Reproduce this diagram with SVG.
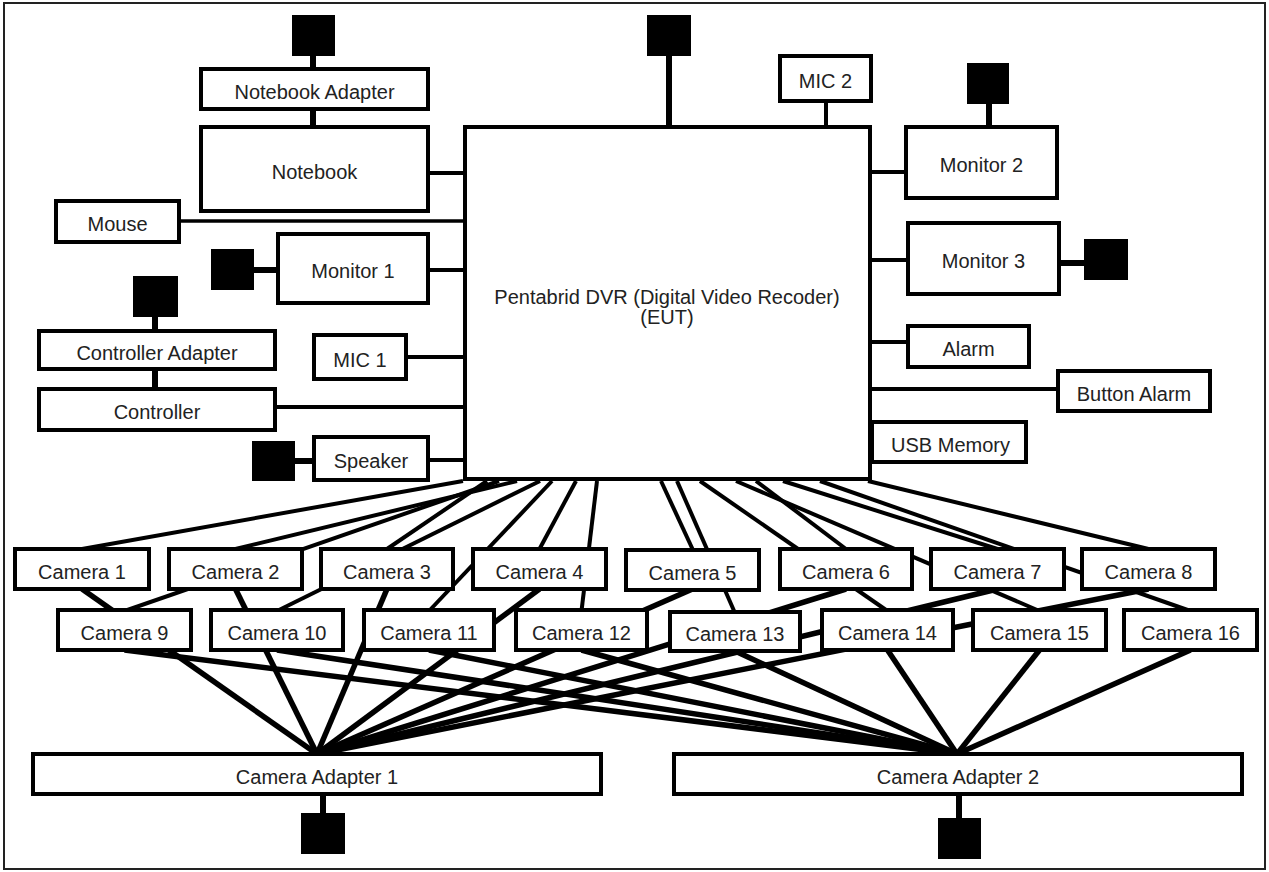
<svg xmlns="http://www.w3.org/2000/svg" width="1269" height="872" viewBox="0 0 1269 872">
<style>
.box{fill:#fff;stroke:#000;stroke-width:4}
.sq{fill:#000}
.ln{stroke:#000;stroke-width:4;fill:none}
.thin{stroke:#000;stroke-width:3.5;fill:none}
.pw{stroke:#000;stroke-width:6;fill:none}
.dl{stroke:#000;stroke-width:4;fill:none}
.al{stroke:#000;stroke-width:5.5;fill:none}
text{font-family:"Liberation Sans",Arial,sans-serif;font-size:20px;fill:#222;text-anchor:middle}
</style>
<rect x="4" y="3" width="1261" height="866" fill="#fff" stroke="#222" stroke-width="2"/>
<g id="connectors">
  <!-- power / adapter links -->
  <line class="pw" x1="313" y1="56" x2="313" y2="69"/>
  <line class="pw" x1="313" y1="109" x2="313" y2="127"/>
  <line class="pw" x1="669" y1="56" x2="669" y2="127"/>
  <line class="pw" x1="989" y1="104" x2="989" y2="127"/>
  <line class="pw" x1="1059" y1="263" x2="1084" y2="263"/>
  <line class="pw" x1="254" y1="270" x2="278" y2="270"/>
  <line class="pw" x1="155" y1="317" x2="155" y2="331"/>
  <line class="pw" x1="155" y1="369" x2="155" y2="389"/>
  <line class="pw" x1="295" y1="461" x2="314" y2="461"/>
  <line class="pw" x1="323" y1="794" x2="323" y2="813"/>
  <line class="pw" x1="959" y1="794" x2="959" y2="818"/>
  <!-- DVR side links -->
  <line class="ln" x1="428" y1="173" x2="465" y2="173"/>
  <line class="thin" x1="179" y1="221" x2="465" y2="221"/>
  <line class="ln" x1="428" y1="270" x2="465" y2="270"/>
  <line class="ln" x1="406" y1="357" x2="465" y2="357"/>
  <line class="ln" x1="275" y1="407" x2="465" y2="407"/>
  <line class="ln" x1="428" y1="460" x2="465" y2="460"/>
  <line class="ln" x1="826" y1="101" x2="826" y2="127"/>
  <line class="ln" x1="870" y1="172" x2="906" y2="172"/>
  <line class="ln" x1="870" y1="260" x2="908" y2="260"/>
  <line class="ln" x1="870" y1="342" x2="908" y2="342"/>
  <line class="ln" x1="870" y1="389" x2="1058" y2="389"/>
  <!-- DVR to cameras -->
  <line class="dl" x1="463" y1="481" x2="82" y2="549"/>
  <line class="dl" x1="487" y1="481" x2="387" y2="549"/>
  <line class="dl" x1="499" y1="481" x2="124.5" y2="611"/>
  <line class="dl" x1="517" y1="481" x2="235.5" y2="549"/>
  <line class="dl" x1="540" y1="481" x2="277" y2="611"/>
  <line class="dl" x1="552" y1="481" x2="429" y2="611"/>
  <line class="dl" x1="576" y1="481" x2="539.5" y2="549"/>
  <line class="dl" x1="597" y1="481" x2="581.5" y2="611"/>
  <line class="dl" x1="661" y1="481" x2="692.5" y2="549"/>
  <line class="dl" x1="677" y1="481" x2="735" y2="613"/>
  <line class="dl" x1="700" y1="481" x2="887.5" y2="611"/>
  <line class="dl" x1="736" y1="481" x2="1039.5" y2="611"/>
  <line class="dl" x1="756" y1="481" x2="846" y2="549"/>
  <line class="dl" x1="783" y1="481" x2="997.5" y2="549"/>
  <line class="dl" x1="820" y1="481" x2="1190.5" y2="611"/>
  <line class="dl" x1="868" y1="481" x2="1148.5" y2="549"/>
  <!-- cameras to adapters -->
  <line class="al" x1="82" y1="589" x2="317" y2="754"/>
  <line class="al" x1="235.5" y1="589" x2="317" y2="754"/>
  <line class="al" x1="387" y1="589" x2="317" y2="754"/>
  <line class="al" x1="539.5" y1="589" x2="317" y2="754"/>
  <line class="al" x1="692.5" y1="589" x2="317" y2="754"/>
  <line class="al" x1="846" y1="589" x2="317" y2="754"/>
  <line class="al" x1="997.5" y1="589" x2="317" y2="754"/>
  <line class="al" x1="1148.5" y1="589" x2="317" y2="754"/>
  <line class="al" x1="124.5" y1="650" x2="957" y2="754"/>
  <line class="al" x1="277" y1="650" x2="957" y2="754"/>
  <line class="al" x1="429" y1="650" x2="957" y2="754"/>
  <line class="al" x1="581.5" y1="650" x2="957" y2="754"/>
  <line class="al" x1="735" y1="651" x2="957" y2="754"/>
  <line class="al" x1="887.5" y1="650" x2="957" y2="754"/>
  <line class="al" x1="1039.5" y1="650" x2="957" y2="754"/>
  <line class="al" x1="1190.5" y1="650" x2="957" y2="754"/>
</g>
<g id="power-squares">
  <rect class="sq" x="292" y="15" width="43" height="41"/>
  <rect class="sq" x="647" y="15" width="44" height="41"/>
  <rect class="sq" x="967" y="63" width="42" height="41"/>
  <rect class="sq" x="1084" y="239" width="44" height="41"/>
  <rect class="sq" x="211" y="249" width="43" height="41"/>
  <rect class="sq" x="133" y="276" width="45" height="41"/>
  <rect class="sq" x="252" y="441" width="43" height="40"/>
  <rect class="sq" x="301" y="813" width="44" height="41"/>
  <rect class="sq" x="938" y="818" width="43" height="41"/>
</g>
<g id="dvr"><rect class="box" x="465" y="127" width="405" height="352"/>
  <text x="667" y="304">Pentabrid DVR (Digital Video Recoder)</text>
  <text x="667" y="324">(EUT)</text></g>
<g id="notebook-adapter"><rect class="box" x="201" y="69" width="227" height="40"/><text x="314.5" y="98.5">Notebook Adapter</text></g>
<g id="notebook"><rect class="box" x="201" y="127" width="227" height="84"/><text x="314.5" y="178.5">Notebook</text></g>
<g id="mouse"><rect class="box" x="56" y="201" width="123" height="41"/><text x="117.5" y="231">Mouse</text></g>
<g id="monitor-1"><rect class="box" x="278" y="234" width="150" height="69"/><text x="353" y="278">Monitor 1</text></g>
<g id="controller-adapter"><rect class="box" x="39" y="331" width="236" height="38"/><text x="157" y="359.5">Controller Adapter</text></g>
<g id="controller"><rect class="box" x="39" y="389" width="236" height="41"/><text x="157" y="419">Controller</text></g>
<g id="mic-1"><rect class="box" x="314" y="335" width="92" height="44"/><text x="360" y="366.5">MIC 1</text></g>
<g id="speaker"><rect class="box" x="314" y="437" width="114" height="43"/><text x="371" y="468">Speaker</text></g>
<g id="mic-2"><rect class="box" x="780" y="56" width="91" height="45"/><text x="825.5" y="88">MIC 2</text></g>
<g id="monitor-2"><rect class="box" x="906" y="127" width="151" height="71"/><text x="981.5" y="172">Monitor 2</text></g>
<g id="monitor-3"><rect class="box" x="908" y="223" width="151" height="71"/><text x="983.5" y="268">Monitor 3</text></g>
<g id="alarm"><rect class="box" x="908" y="326" width="121" height="41"/><text x="968.5" y="356">Alarm</text></g>
<g id="button-alarm"><rect class="box" x="1058" y="371" width="152" height="40"/><text x="1134" y="400.5">Button Alarm</text></g>
<g id="usb-memory"><rect class="box" x="872" y="422" width="154" height="40"/><text x="950.5" y="451.5">USB Memory</text></g>
<g id="camera-1"><rect class="box" x="15" y="549" width="134" height="40"/><text x="82" y="578.5">Camera 1</text></g>
<g id="camera-2"><rect class="box" x="169" y="549" width="133" height="40"/><text x="235.5" y="578.5">Camera 2</text></g>
<g id="camera-3"><rect class="box" x="321" y="549" width="132" height="40"/><text x="387" y="578.5">Camera 3</text></g>
<g id="camera-4"><rect class="box" x="473" y="549" width="133" height="40"/><text x="539.5" y="578.5">Camera 4</text></g>
<g id="camera-5"><rect class="box" x="626" y="550" width="133" height="40"/><text x="692.5" y="579.5">Camera 5</text></g>
<g id="camera-6"><rect class="box" x="780" y="549" width="132" height="40"/><text x="846" y="578.5">Camera 6</text></g>
<g id="camera-7"><rect class="box" x="931" y="549" width="133" height="40"/><text x="997.5" y="578.5">Camera 7</text></g>
<g id="camera-8"><rect class="box" x="1082" y="549" width="133" height="40"/><text x="1148.5" y="578.5">Camera 8</text></g>
<g id="camera-9"><rect class="box" x="58" y="610" width="133" height="40"/><text x="124.5" y="639.5">Camera 9</text></g>
<g id="camera-10"><rect class="box" x="211" y="610" width="132" height="40"/><text x="277" y="639.5">Camera 10</text></g>
<g id="camera-11"><rect class="box" x="364" y="610" width="130" height="40"/><text x="429" y="639.5">Camera 11</text></g>
<g id="camera-12"><rect class="box" x="516" y="610" width="131" height="40"/><text x="581.5" y="639.5">Camera 12</text></g>
<g id="camera-13"><rect class="box" x="670" y="612" width="130" height="39"/><text x="735" y="641">Camera 13</text></g>
<g id="camera-14"><rect class="box" x="822" y="610" width="131" height="40"/><text x="887.5" y="639.5">Camera 14</text></g>
<g id="camera-15"><rect class="box" x="973" y="610" width="133" height="40"/><text x="1039.5" y="639.5">Camera 15</text></g>
<g id="camera-16"><rect class="box" x="1124" y="610" width="133" height="40"/><text x="1190.5" y="639.5">Camera 16</text></g>
<g id="camera-adapter-1"><rect class="box" x="33" y="754" width="568" height="40"/><text x="317" y="783.5">Camera Adapter 1</text></g>
<g id="camera-adapter-2"><rect class="box" x="674" y="754" width="568" height="40"/><text x="958" y="783.5">Camera Adapter 2</text></g>
</svg>
